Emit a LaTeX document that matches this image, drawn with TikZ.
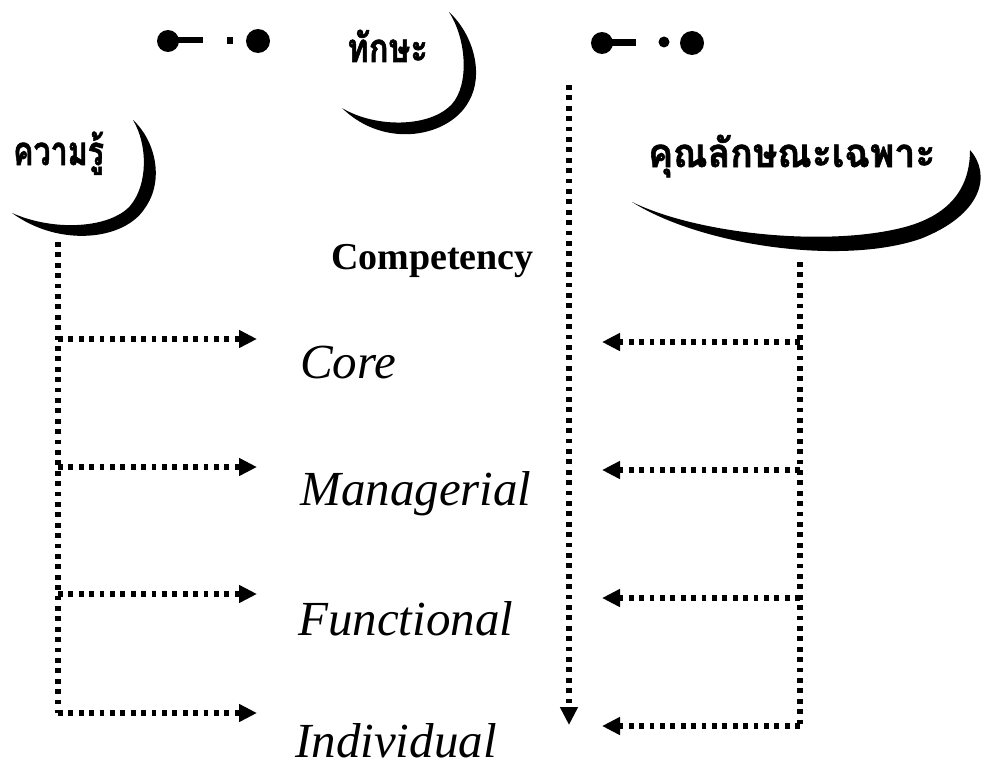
\documentclass[tikz,border=0pt]{standalone}
\usepackage{fontspec}
\usepackage{graphicx}
\setmainfont{Liberation Serif}
\newfontfamily\thaifont[Script=Thai,BoldFeatures={FakeBold=1.5}]{Loma}
\usetikzlibrary{arrows.meta}
\tikzset{
  dotline/.style={line width=5.2pt, dash pattern=on 4.8pt off 5.6pt},
  dotarrow/.style={dotline, -{Triangle[length=18pt,width=17pt]}},
  label/.style={anchor=base west, inner sep=0pt, font=\fontsize{49}{49}\selectfont\itshape},
  thai/.style={anchor=base west, inner sep=0pt, font=\thaifont\bfseries\fontsize{40}{40}\selectfont},
  moon/.style={fill=black, draw=none}
}
\begin{document}
\begin{tikzpicture}[x=1pt,y=-1pt]
\fill[white] (0,0) rectangle (990,768);
\useasboundingbox (0,0) rectangle (990,768);

% barbell symbols
\fill (168,41) circle (11pt);
\fill (175,37.5) rectangle (203,43.5);
\fill (227,37.5) rectangle (233,44);
\fill (258,41) circle (12pt);
\fill (602,43) circle (11pt);
\fill (608,39) rectangle (636,46);
\fill (664,42) circle (5.5pt);
\fill (692,43) circle (12pt);

% crescents
\path[moon] (133,120) .. controls (155,140) and (165,180) .. (145,208)
  .. controls (125,240) and (60,248) .. (12,213)
  .. controls (55,232) and (110,228) .. (130,206)
  .. controls (148,185) and (148,145) .. (133,120) -- cycle;
\path[moon] (449,12) .. controls (474,35) and (484,75) .. (469,101)
  .. controls (450,137) and (385,150) .. (342,108)
  .. controls (375,128) and (430,128) .. (452,104)
  .. controls (469,85) and (467,40) .. (449,12) -- cycle;
\path[moon] (970,150) .. controls (992,175) and (982,215) .. (920,239)
  .. controls (840,266) and (700,245) .. (632,202)
  .. controls (700,235) and (830,247) .. (905,227)
  .. controls (953,214) and (970,185) .. (970,150) -- cycle;

% texts
\node[thai] (know) at (13,165) {\scalebox{0.76}[1]{ความรู้}};
\node[thai] (skill) at (347,62) {\scalebox{0.82}[1]{ทักษะ}};
\node[thai] (attr) at (648,167) {\scalebox{0.93}[1]{คุณลักษณะเฉพาะ}};
\node[anchor=base west, inner sep=0pt, font=\fontsize{38}{38}\selectfont\bfseries] (comp) at (331,269) {Competency};
\node[label] (core) at (300,378) {Core};
\node[label] (man) at (300,505) {Managerial};
\node[label] (fun) at (298,635) {Functional};
\node[label] (ind) at (295,757) {Individual};

% connector points
\coordinate (Ltop) at (58,242);
\coordinate (L1) at (58,339);
\coordinate (L2) at (58,467);
\coordinate (L3) at (58,594);
\coordinate (L4) at (58,713);
\coordinate (Lt1) at (257,339);
\coordinate (Lt2) at (257,467);
\coordinate (Lt3) at (257,594);
\coordinate (Lt4) at (257,713);
\coordinate (Rtop) at (800,262);
\coordinate (R1) at (800,342);
\coordinate (R2) at (800,470);
\coordinate (R3) at (800,598);
\coordinate (R4) at (800,726);
\coordinate (Rt1) at (602,342);
\coordinate (Rt2) at (602,470);
\coordinate (Rt3) at (602,598);
\coordinate (Rt4) at (602,726);
\coordinate (Mtop) at (569,85);
\coordinate (Mbot) at (569,725);

\draw[dotline] (Ltop) -- (L4);
\draw[dotarrow] (L4) -- (Lt4);
\draw[dotarrow] (L1) -- (Lt1);
\draw[dotarrow] (L2) -- (Lt2);
\draw[dotarrow] (L3) -- (Lt3);

\draw[dotline] (Rtop) -- (R4);
\draw[dotarrow] (R4) -- (Rt4);
\draw[dotarrow] (R1) -- (Rt1);
\draw[dotarrow] (R2) -- (Rt2);
\draw[dotarrow] (R3) -- (Rt3);

\draw[dotarrow] (Mtop) -- (Mbot);
\end{tikzpicture}
\end{document}
